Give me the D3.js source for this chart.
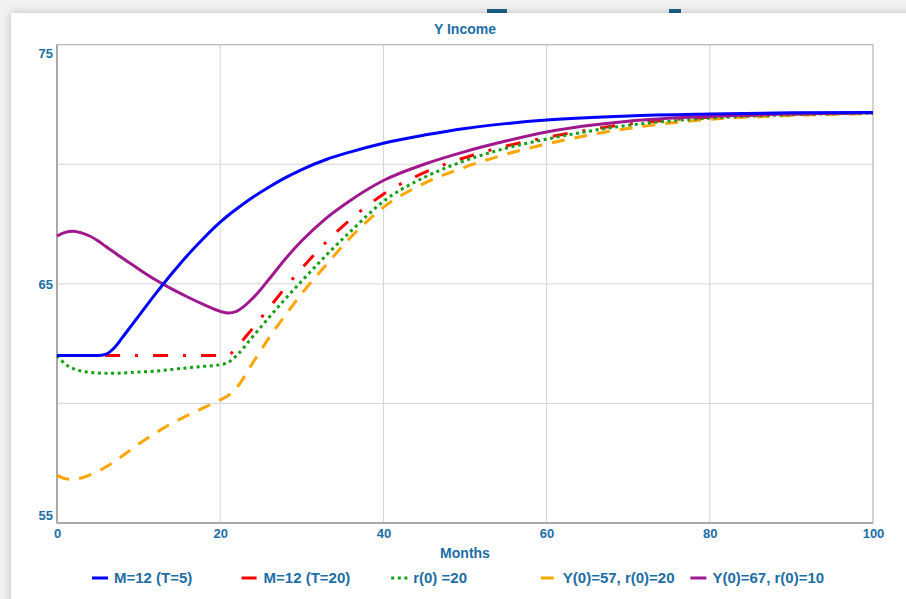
<!DOCTYPE html>
<html>
<head>
<meta charset="utf-8">
<script src="https://cdn.jsdelivr.net/npm/d3@7"></script>
<style>
  html, body { margin: 0; padding: 0; background: #f1f1f1; }
  svg { display: block; font-family: "Liberation Sans", Arial, sans-serif; }
</style>
</head>
<body>
<svg id="chart" width="906" height="599"></svg>
<script>
// Simulated income path Y under five scenarios (months 0..100)
const months = [0,1,2,3,4,5,6,7,8,9,10,12,14,16,18,20,21,22,24,26,28,30,33,36,40,45,50,55,60,70,80,90,100];

const seriesT5   = [62.0,62.0,62.0,62.0,62.0,62.0,62.06,62.32,62.75,63.2,63.65,64.55,65.4,66.2,66.92,67.58,67.87,68.13,68.62,69.05,69.44,69.78,70.2,70.52,70.88,71.22,71.5,71.7,71.85,72.02,72.1,72.15,72.17];
const seriesT20  = [62.0,62.0,62.0,62.0,62.0,62.0,62.0,62.0,62.0,62.0,62.0,62.0,62.0,62.0,62.0,62.0,62.02,62.35,63.15,64.0,64.85,65.65,66.75,67.7,68.75,69.65,70.28,70.76,71.12,71.68,71.97,72.1,72.15];
const seriesR20  = [62.0,61.65,61.45,61.35,61.3,61.27,61.26,61.26,61.27,61.29,61.31,61.35,61.42,61.49,61.55,61.62,61.72,62.0,62.8,63.6,64.38,65.12,66.2,67.2,68.45,69.45,70.15,70.67,71.05,71.63,71.93,72.07,72.14];
const seriesY57  = [57.0,56.85,56.82,56.88,57.0,57.15,57.35,57.55,57.8,58.05,58.3,58.75,59.15,59.5,59.82,60.15,60.33,60.65,61.7,62.75,63.7,64.6,65.8,66.95,68.2,69.2,69.88,70.42,70.85,71.5,71.88,72.04,72.12];
const seriesY67  = [67.0,67.15,67.2,67.13,67.0,66.8,66.56,66.32,66.08,65.85,65.62,65.18,64.8,64.45,64.13,63.85,63.78,63.85,64.4,65.2,66.05,66.8,67.75,68.5,69.32,70.0,70.53,70.97,71.35,71.8,72.0,72.1,72.15];

const seriesNames  = ["M=12 (T=5)", "M=12 (T=20)", "r(0) =20", "Y(0)=57, r(0)=20", "Y(0)=67, r(0)=10"];
const seriesValues = [seriesT5, seriesT20, seriesR20, seriesY57, seriesY67];
const seriesColors = ["#0000ff", "#ff0000", "#12a012", "#ffa500", "#a0178e"];
const seriesDashes = [null, "15,15,3,15", "3,3.6", "13,10", null];

const xTicks = [0, 20, 40, 60, 80, 100];
const yTicks = [55, 60, 65, 70, 75];
const yLabelled = [55, 65, 75];

const textBlue = "#1d6ea6";
const svg = d3.select("#chart");

// page card with soft shadow
const defs = svg.append("defs");
const sh = defs.append("filter").attr("id", "shadow")
  .attr("x", "-5%").attr("y", "-5%").attr("width", "110%").attr("height", "110%");
sh.append("feDropShadow").attr("dx", 0).attr("dy", 0).attr("stdDeviation", 4)
  .attr("flood-color", "#000").attr("flood-opacity", 0.22);

svg.append("rect").attr("width", 906).attr("height", 599).attr("fill", "#f1f1f1");
svg.append("rect").attr("x", 487).attr("y", 9).attr("width", 20).attr("height", 4).attr("fill", "#1d5f8c");
svg.append("rect").attr("x", 669).attr("y", 9).attr("width", 12).attr("height", 4).attr("fill", "#1d5f8c");
svg.append("rect").attr("x", 11).attr("y", 13).attr("width", 930).attr("height", 620)
  .attr("fill", "#ffffff").attr("filter", "url(#shadow)");

const plot = { left: 57, right: 873, top: 44.7, bottom: 523 };

const x = d3.scaleLinear().domain([0, 100]).range([plot.left, plot.right]);
const y = d3.scaleLinear().domain([55, 75]).range([plot.bottom, plot.top]);

// grid lines
const grid = svg.append("g");
grid.selectAll("line.v").data(xTicks.slice(1, -1)).join("line")
  .attr("x1", d => x(d)).attr("x2", d => x(d))
  .attr("y1", plot.top).attr("y2", plot.bottom)
  .attr("stroke", "#d4d4d4").attr("stroke-width", 1);
grid.selectAll("line.h").data(yTicks.slice(1, -1)).join("line")
  .attr("x1", plot.left).attr("x2", plot.right)
  .attr("y1", d => y(d)).attr("y2", d => y(d))
  .attr("stroke", "#d4d4d4").attr("stroke-width", 1);

// frame
svg.append("rect")
  .attr("x", plot.left).attr("y", plot.top)
  .attr("width", plot.right - plot.left).attr("height", plot.bottom - plot.top)
  .attr("fill", "none").attr("stroke", "#b4b4b4").attr("stroke-width", 1.2);
svg.append("line").attr("x1", plot.left).attr("x2", plot.left)
  .attr("y1", plot.top).attr("y2", plot.bottom)
  .attr("stroke", "#a8a8a8").attr("stroke-width", 2);
svg.append("line").attr("x1", plot.left).attr("x2", plot.right)
  .attr("y1", plot.bottom).attr("y2", plot.bottom)
  .attr("stroke", "#a8a8a8").attr("stroke-width", 2);

// axes (labels only; lines drawn by the frame)
const yAxis = d3.axisLeft(y).tickValues(yLabelled).tickSize(0).tickPadding(4);
const gy = svg.append("g").attr("transform", `translate(${plot.left},0)`).call(yAxis);
gy.select(".domain").remove();
gy.selectAll("text")
  .attr("fill", textBlue).attr("font-size", 13).attr("font-weight", "bold")
  .attr("font-family", "'Liberation Sans', Arial, sans-serif")
  .attr("dy", d => d === 75 ? "0.95em" : d === 55 ? "-0.28em" : "0.32em");

const xAxis = d3.axisBottom(x).tickValues(xTicks).tickSize(0).tickPadding(6);
const gx = svg.append("g").attr("transform", `translate(0,${plot.bottom})`).call(xAxis);
gx.select(".domain").remove();
gx.selectAll("text")
  .attr("fill", textBlue).attr("font-size", 13).attr("font-weight", "bold")
  .attr("font-family", "'Liberation Sans', Arial, sans-serif");

// titles
svg.append("text").attr("x", (plot.left + plot.right) / 2).attr("y", 34)
  .attr("text-anchor", "middle").attr("fill", textBlue)
  .attr("font-size", 14).attr("font-weight", "bold").text("Y Income");
svg.append("text").attr("x", (plot.left + plot.right) / 2).attr("y", 558)
  .attr("text-anchor", "middle").attr("fill", textBlue)
  .attr("font-size", 14).attr("font-weight", "bold").text("Months");

// series lines
const line = d3.line()
  .x((d, i) => x(months[i]))
  .y(d => y(d))
  .curve(d3.curveMonotoneX);

const drawOrder = [3, 1, 2, 4, 0];
svg.append("g").selectAll("path").data(drawOrder).join("path")
  .attr("d", k => line(seriesValues[k]))
  .attr("fill", "none")
  .attr("stroke", k => seriesColors[k])
  .attr("stroke-width", 3)
  .attr("stroke-dasharray", k => seriesDashes[k])
  .attr("stroke-linejoin", "round");

// legend
const legend = svg.append("g").attr("transform", "translate(92,578)");
const items = legend.selectAll("g").data(seriesNames).join("g")
  .attr("transform", (d, i) => `translate(${i * 149.6},0)`);
items.append("line")
  .attr("x1", 0).attr("x2", (d, i) => i === 2 ? 18 : 16)
  .attr("y1", 0).attr("y2", 0)
  .attr("stroke", (d, i) => seriesColors[i])
  .attr("stroke-width", 3)
  .attr("stroke-dasharray", (d, i) => seriesDashes[i]);
items.append("text")
  .attr("x", 22)
  .attr("y", 0).attr("dy", "0.35em")
  .attr("fill", textBlue).attr("font-size", 15).attr("font-weight", "bold")
  .text(d => d);
</script>
</body>
</html>
